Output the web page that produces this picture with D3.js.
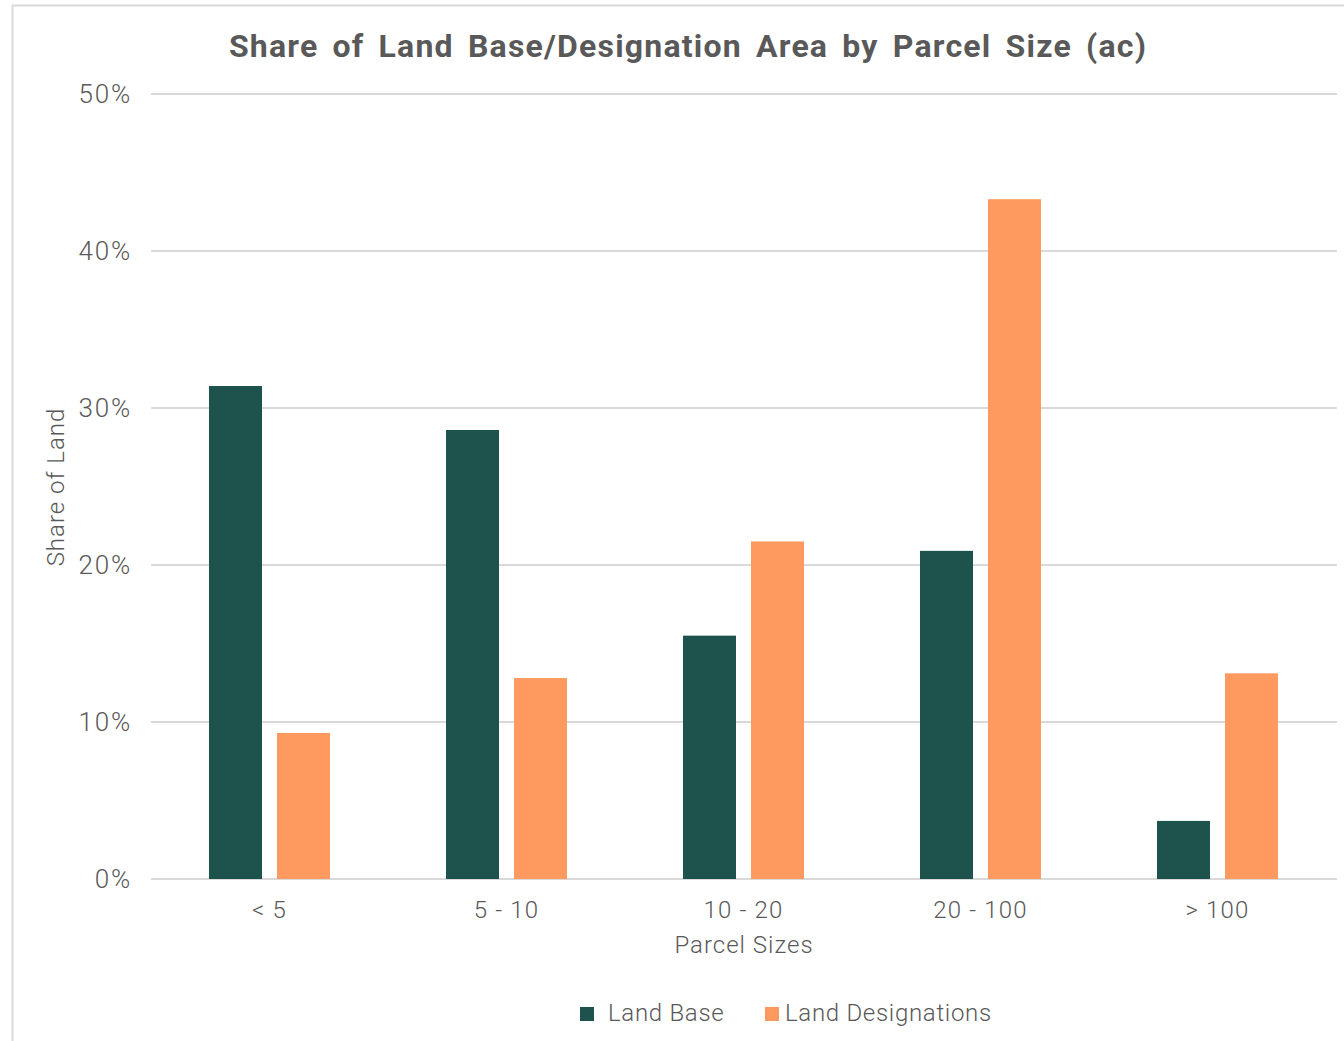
<!DOCTYPE html>
<html><head><meta charset="utf-8">
<script src="https://cdn.jsdelivr.net/npm/d3@7"></script>
<style>body{margin:0;background:#fff;}svg{display:block;font-family:"Roboto","Liberation Sans",sans-serif;}</style>
</head><body>
<script>
const categories = ["< 5", "5 - 10", "10 - 20", "20 - 100", "> 100"];
const seriesNames = ["Land Base", "Land Designations"];
const landBase = [31.4, 28.6, 15.5, 20.9, 3.7];
const landDesignations = [9.3, 12.8, 21.5, 43.3, 13.1];
const yTicks = [0, 10, 20, 30, 40, 50];
const colors = ["#1e534d", "#fe9a5f"];

const W = 1344, H = 1041;
const svg = d3.select("body").append("svg").attr("width", W).attr("height", H);

// frame
svg.append("path").attr("d", "M12.5,1041 V5.5 H1344").attr("fill","none").attr("stroke","#d9d9d9").attr("stroke-width",2);

const x0 = d3.scaleBand().domain(categories).range([151, 1336]).paddingInner(0).paddingOuter(0);
const y = d3.scaleLinear().domain([0, 50]).range([879, 94]);

// gridlines
svg.append("g").selectAll("line").data(yTicks).join("line")
  .attr("x1", 151).attr("x2", 1337)
  .attr("y1", d => y(d)).attr("y2", d => y(d))
  .attr("stroke", "#d9d9d9").attr("stroke-width", 2);

// y tick labels
svg.append("g").selectAll("text").data(yTicks).join("text")
  .attr("x", 132).attr("y", d => y(d) + 9)
  .attr("text-anchor", "end").attr("font-size", 26).attr("fill", "#595959")
  .attr("font-weight", 300).attr("letter-spacing", 1.8)
  .text(d => d + "%");

const barW = 53, gap = 15;
const x1 = d3.scaleOrdinal().domain(seriesNames).range([-(gap/2 + barW), gap/2]);
const data = categories.map((c, i) => ({c, vals: [landBase[i], landDesignations[i]]}));
const g = svg.append("g");
data.forEach(d => {
  const cx = x0(d.c) + x0.bandwidth() / 2;
  g.selectAll(null).data(d.vals.map((v, j) => ({v, s: seriesNames[j], j}))).join("rect")
    .attr("x", e => cx + x1(e.s))
    .attr("y", e => y(e.v))
    .attr("width", barW)
    .attr("height", e => y(0) - y(e.v))
    .attr("fill", e => colors[e.j]);
});

// x tick labels
svg.append("g").selectAll("text").data(categories).join("text")
  .attr("x", d => x0(d) + x0.bandwidth()/2).attr("y", 918)
  .attr("text-anchor", "middle").attr("font-size", 24).attr("fill", "#595959").attr("font-weight", 300)
  .attr("letter-spacing", 1.2)
  .text(d => d);

// axis titles
svg.append("text").attr("x", 744).attr("y", 953).attr("text-anchor", "middle")
  .attr("font-size", 24).attr("fill", "#595959").attr("font-weight", 300).attr("letter-spacing", 1)
  .text("Parcel Sizes");
svg.append("text").attr("transform", "translate(64,487) rotate(-90)").attr("text-anchor", "middle")
  .attr("font-size", 24).attr("fill", "#595959").attr("font-weight", 300).attr("letter-spacing", 1)
  .text("Share of Land");

// title
svg.append("text").attr("x", 688).attr("y", 57).attr("text-anchor", "middle")
  .attr("font-size", 32).attr("font-weight", 700).attr("fill", "#595959")
  .attr("letter-spacing", 1.2).attr("word-spacing", 5)
  .text("Share of Land Base/Designation Area by Parcel Size (ac)");

// legend
const legendX = [580, 765];
const lg = svg.append("g");
seriesNames.forEach((s, i) => {
  lg.append("rect").attr("x", legendX[i]).attr("y", 1007).attr("width", 14).attr("height", 14).attr("fill", colors[i]);
  lg.append("text").attr("x", legendX[i] + (i === 0 ? 28 : 20)).attr("y", 1021)
    .attr("font-size", 24).attr("fill", "#595959").attr("font-weight", 300).attr("letter-spacing", 0.7)
    .text(s);
});
</script>
</body></html>
